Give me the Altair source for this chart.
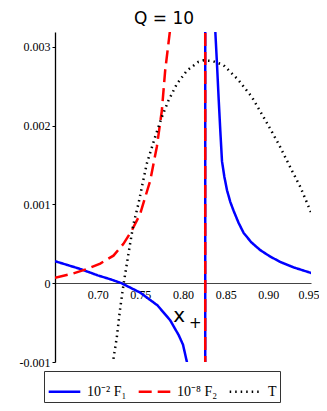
import altair as alt
import pandas as pd

# 10^-2 F1 (blue)
f1_x = [0.65, 0.665, 0.68, 0.70, 0.715, 0.728, 0.75, 0.77, 0.785, 0.795, 0.80, 0.805, 0.815, 0.826,
        0.8261, 0.832, 0.8378, 0.8398, 0.8417, 0.8437, 0.8457, 0.8485, 0.8516, 0.8555, 0.8593, 0.865,
        0.871, 0.88, 0.8906, 0.902, 0.9141, 0.93, 0.9532]
f1_y = [0.00028, 0.00023, 0.00018, 0.0001, 0.00005, 0.0, -0.00012, -0.00028, -0.00047, -0.00066, -0.00078,
        -0.00102, -0.0018, -0.03,
        0.03, 0.0055, 0.00321, 0.00279, 0.00236, 0.00194, 0.00155, 0.00135, 0.00118, 0.00103, 0.00092,
        0.00077, 0.00064, 0.00052, 0.00042, 0.00034, 0.00027, 0.0002, 0.00012]

# 10^-8 F2 (red dashed)
f2_x = [0.65, 0.67, 0.6875, 0.703, 0.7185, 0.7302, 0.74, 0.7498, 0.7615, 0.7693, 0.7752, 0.7791, 0.785,
        0.80, 0.826, 0.8261, 0.95]
f2_y = [0.00007, 0.00012, 0.00018, 0.00025, 0.00035, 0.0005, 0.00067, 0.00088, 0.0013, 0.00173, 0.00219,
        0.0027, 0.00323, 0.006, 0.03, -0.03, -0.003]

# T (black dotted)
t_x = [0.7185, 0.7224, 0.726, 0.7305, 0.738, 0.7419, 0.7478, 0.7537, 0.7576, 0.7674, 0.7752, 0.783,
       0.7928, 0.8046, 0.818, 0.824, 0.835, 0.8475, 0.865, 0.881, 0.8965, 0.912, 0.9258, 0.9376, 0.95]
t_y = [-0.00096, -0.00069, -0.00035, 0.0, 0.0005, 0.00075, 0.00101, 0.00132, 0.00152, 0.00186, 0.00211,
       0.00232, 0.00253, 0.0027, 0.00281, 0.00283, 0.00282, 0.00277, 0.00258, 0.00236, 0.00207, 0.00177,
       0.00147, 0.00122, 0.0009]

series_names = ["10⁻² F₁", "10⁻⁸ F₂", "T"]
series_colors = ["#0000ff", "#ff0000", "#000000"]
series_dashes = [[1, 0], [13, 6], [1.5, 4]]
series_widths = [2.5, 2.5, 1.2]

x_ticks = [0.70, 0.75, 0.80, 0.85, 0.90, 0.95]
y_ticks = [-0.001, 0, 0.001, 0.002, 0.003]

ann_text = ["x", "+"]
ann_x = [0.7955, 0.8143]
ann_y = [-0.00041, -0.0005]
ann_size = [20, 15]

rows = []
for name, xs, ys in zip(series_names, [f1_x, f2_x, t_x], [f1_y, f2_y, t_y]):
    for i, (a, b) in enumerate(zip(xs, ys)):
        rows.append({"series": name, "x": a, "y": b, "i": i})
df = pd.DataFrame(rows)
ann = pd.DataFrame({"t": ann_text, "x": ann_x, "y": ann_y, "s": ann_size})

xscale = alt.Scale(domain=[0.65, 0.95], nice=False, zero=False)
yscale = alt.Scale(domain=[-0.001, 0.00319], nice=False, zero=False)

legend = alt.Legend(
    title=None, orient="none", legendX=-11, legendY=339, direction="horizontal",
    symbolType="stroke", symbolSize=1000, labelFont="Liberation Serif", labelFontSize=14,
    labelColor="black", strokeColor="#333333", padding=3, columnPadding=6, labelOffset=5,
    fillColor="white", symbolOpacity=1,
)

enc = dict(
    x=alt.X("x:Q", scale=xscale, title=None,
            axis=alt.Axis(values=x_ticks, format=".2f", offset=-79, tickSize=0, labelPadding=6,
                          grid=False, domainColor="#444444", labelFont="Liberation Serif",
                          labelFontSize=12, labelColor="black", labelFlush=True, labelFlushOffset=8)),
    y=alt.Y("y:Q", scale=yscale, title=None,
            axis=alt.Axis(values=y_ticks, grid=False, tickSize=3, labelPadding=2,
                          labelExpr="datum.value == 0 ? '0' : replace(format(datum.value, '.3f'), '\u2212', '-')",
                          domainColor="black", domainWidth=1.3, tickColor="black",
                          labelFont="Liberation Serif", labelFontSize=12, labelColor="black")),
    color=alt.Color("series:N", scale=alt.Scale(domain=series_names, range=series_colors), legend=legend),
    strokeDash=alt.StrokeDash("series:N", scale=alt.Scale(domain=series_names, range=series_dashes), legend=legend),
    strokeWidth=alt.StrokeWidth("series:N", scale=alt.Scale(domain=series_names, range=series_widths), legend=legend),
    order="i:Q",
)

layers = []
for name in series_names:
    layers.append(
        alt.Chart(df).transform_filter(alt.datum.series == name).mark_line(clip=True).encode(**enc)
    )

text_layer = alt.Chart(ann).mark_text(font="DejaVu Sans", color="black").encode(
    x=alt.X("x:Q", scale=xscale), y=alt.Y("y:Q", scale=yscale), text="t:N",
    size=alt.Size("s:Q", scale=None, legend=None),
)

chart = alt.layer(*layers, text_layer).properties(
    width=256, height=330,
    title=alt.TitleParams("Q = 10", font="DejaVu Sans", fontSize=17, fontWeight="normal",
                          anchor="middle", frame="bounds", offset=4, dx=-5, color="black"),
    padding={"left": 47, "top": 24, "right": 8, "bottom": 41},
    autosize=alt.AutoSizeParams(type="none"),
).configure_view(stroke=None)

chart.save("out.html", embed_options={"renderer": "svg", "actions": False})
